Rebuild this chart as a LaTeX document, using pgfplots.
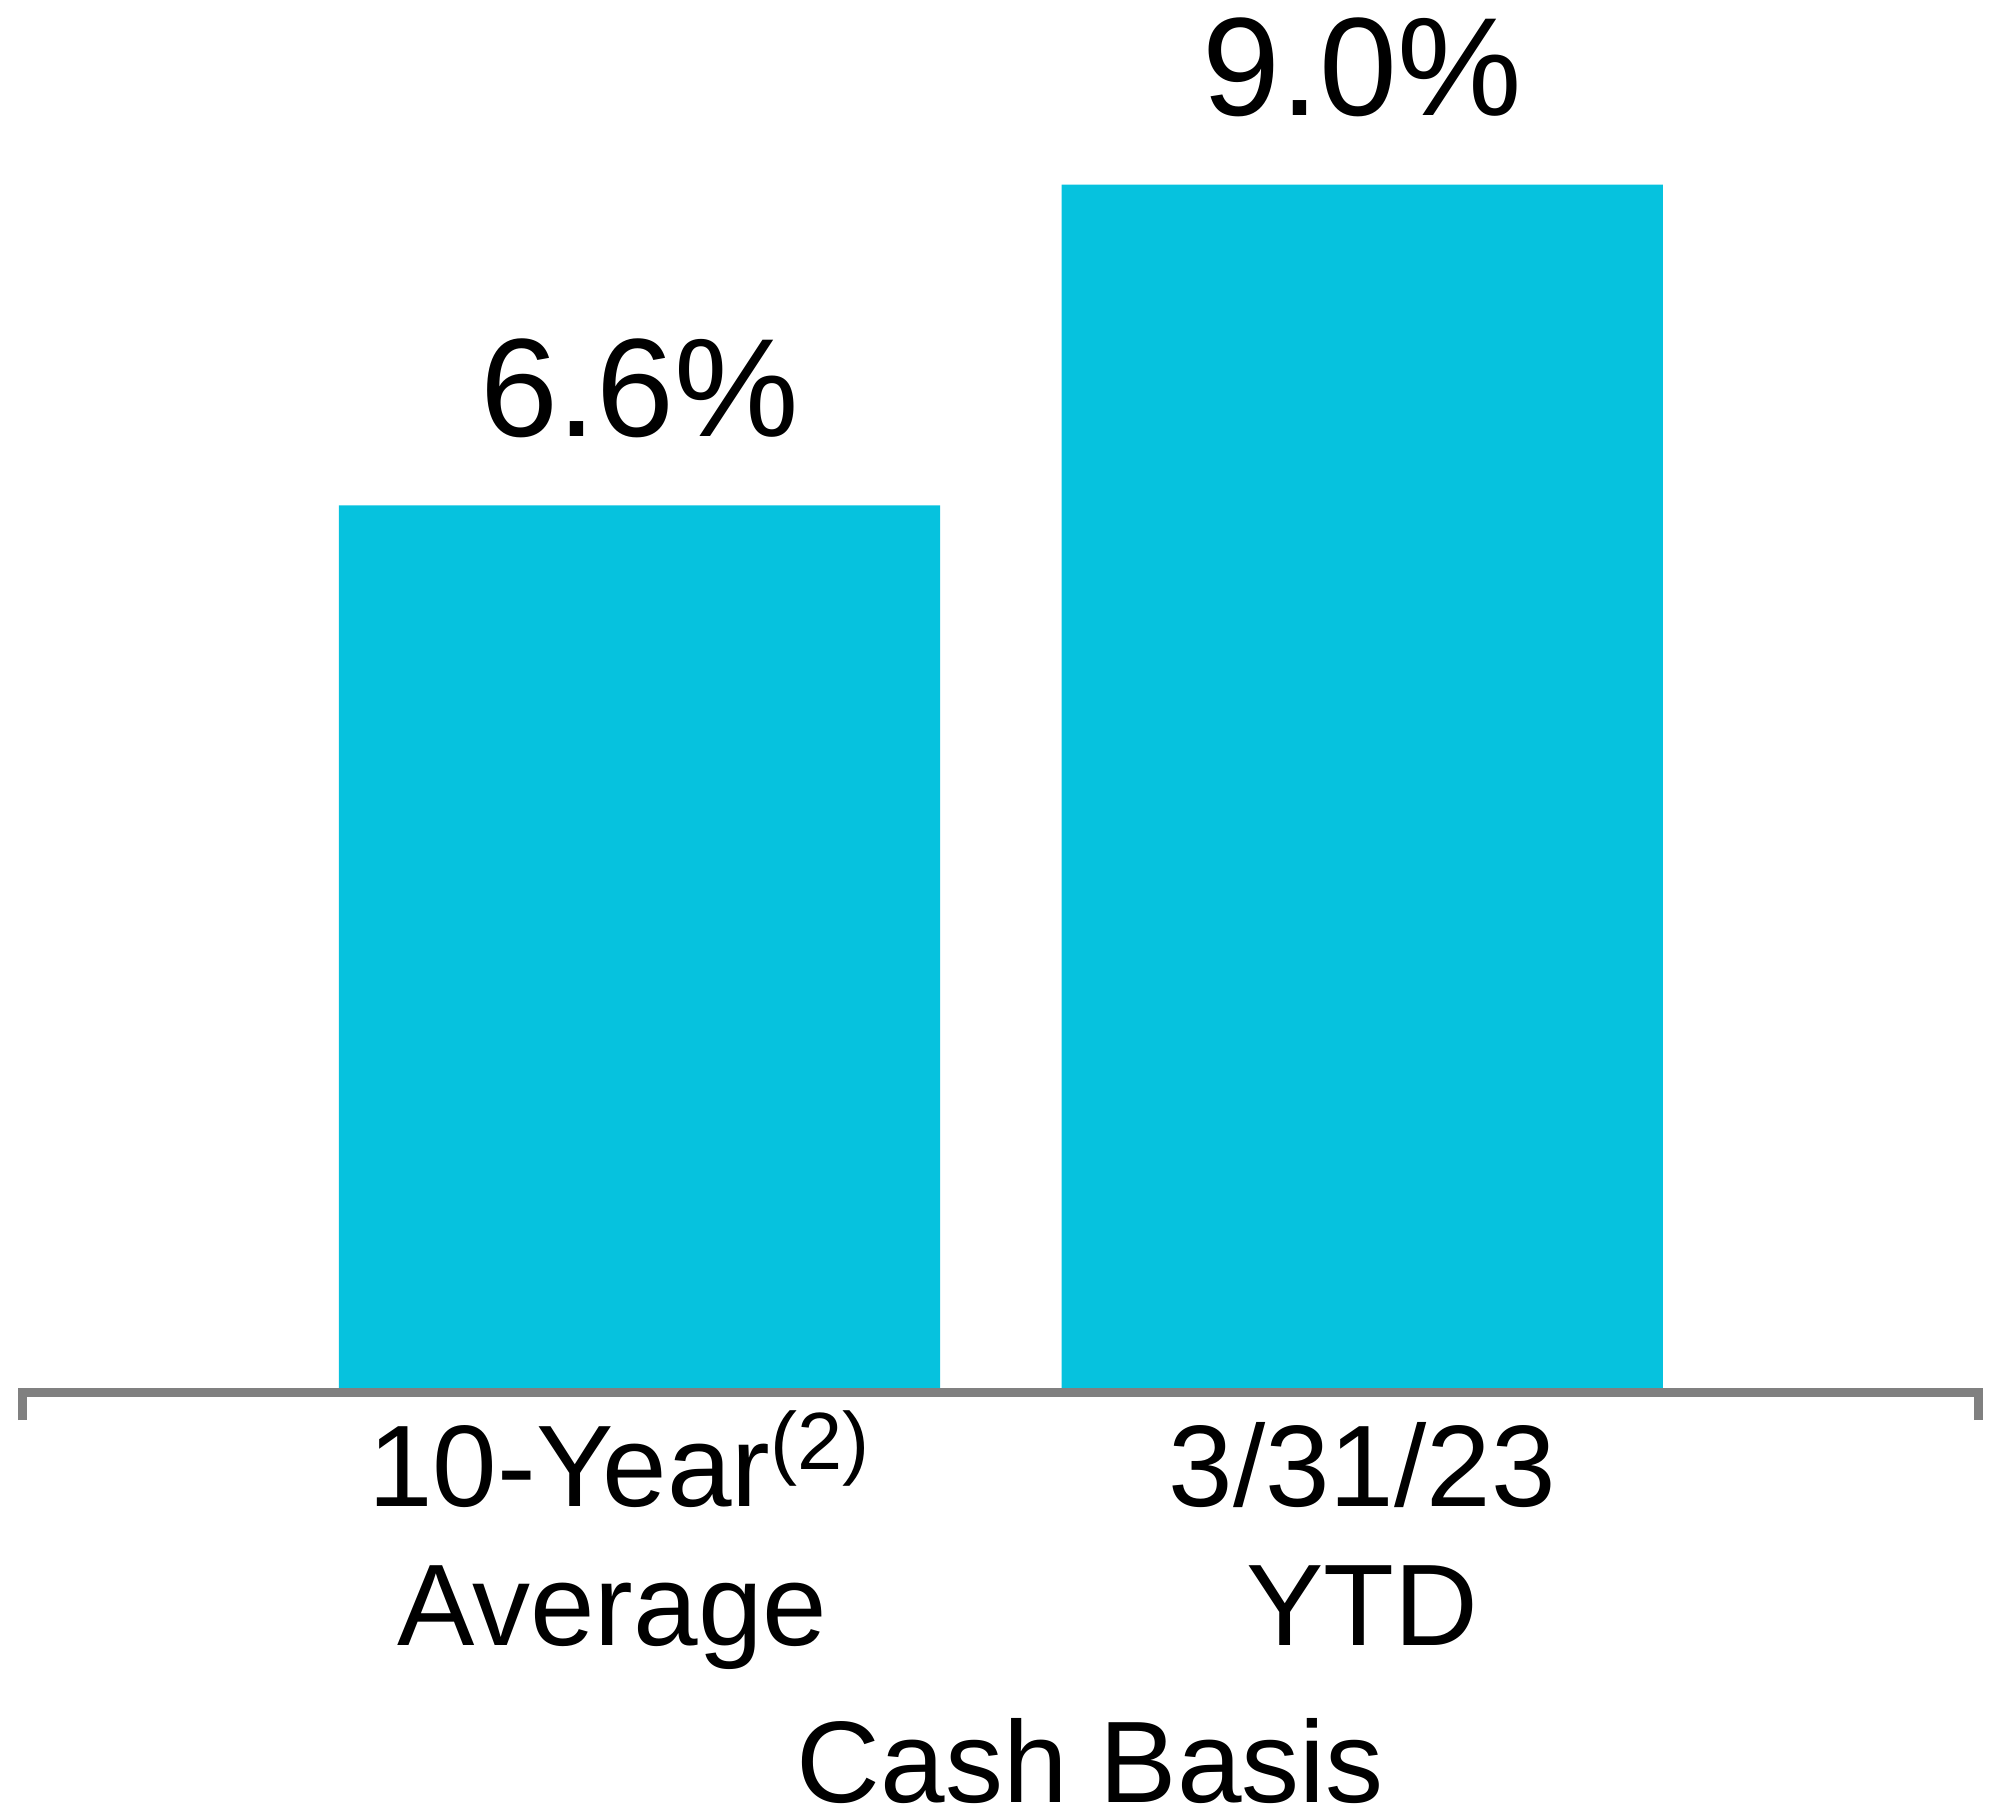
\documentclass[border=0pt]{standalone}
\usepackage{pgfplots}
\pgfplotsset{compat=1.18}
\usepackage{fontspec}
\setmainfont{Liberation Sans}
\definecolor{barcyan}{RGB}{6,194,222}
\definecolor{axisgray}{RGB}{128,128,128}
\begin{document}
\begin{tikzpicture}
\useasboundingbox (0,0) rectangle (500pt,454.75pt);
\begin{axis}[
  at={(5.625pt,107.75pt)}, anchor=south west,
  scale only axis,
  width=489pt, height=334.3pt,
  xmin=-0.854, xmax=1.853,
  ymin=0, ymax=10,
  clip=false,
  axis on top,
  axis x line=bottom,
  axis y line=none,
  x axis line style={axisgray, line width=2.25pt, -, yshift=-1.1pt},
  xtick={0,1},
  xticklabels={{10-Year\textsuperscript{(2)}\hspace*{9.75pt}\\Average\hspace*{13.75pt}},{3/31/23\\YTD}},
  major tick length=0pt,
  extra x ticks={-0.854,1.853},
  extra x tick labels={},
  extra x tick style={tick align=outside, major tick length=8pt,
     tick style={axisgray, line width=2.25pt}},
  xticklabel style={align=center, anchor=base, yshift=-64.3pt,
     font=\fontsize{29}{34.8}\selectfont},
  xlabel={Cash Basis},
  xlabel style={at={(axis description cs:0.5,0)}, anchor=base, inner sep=0pt,
     yshift=-103.5pt, xshift=22.4pt, font=\fontsize{29}{34.8}\selectfont},
  ybar,
  bar width=0.832,
  /pgf/number format/assume math mode=true,
  nodes near coords={\pgfmathprintnumber[fixed,fixed zerofill,precision=1]{\pgfplotspointmeta}\%},
  every node near coord/.append style={anchor=base, yshift=17.3pt,
     font=\fontsize{35}{42}\selectfont, text=black},
]
\addplot[fill=barcyan, draw=none] coordinates {(0,6.6) (1,9.0)};
\end{axis}
\end{tikzpicture}
\end{document}
